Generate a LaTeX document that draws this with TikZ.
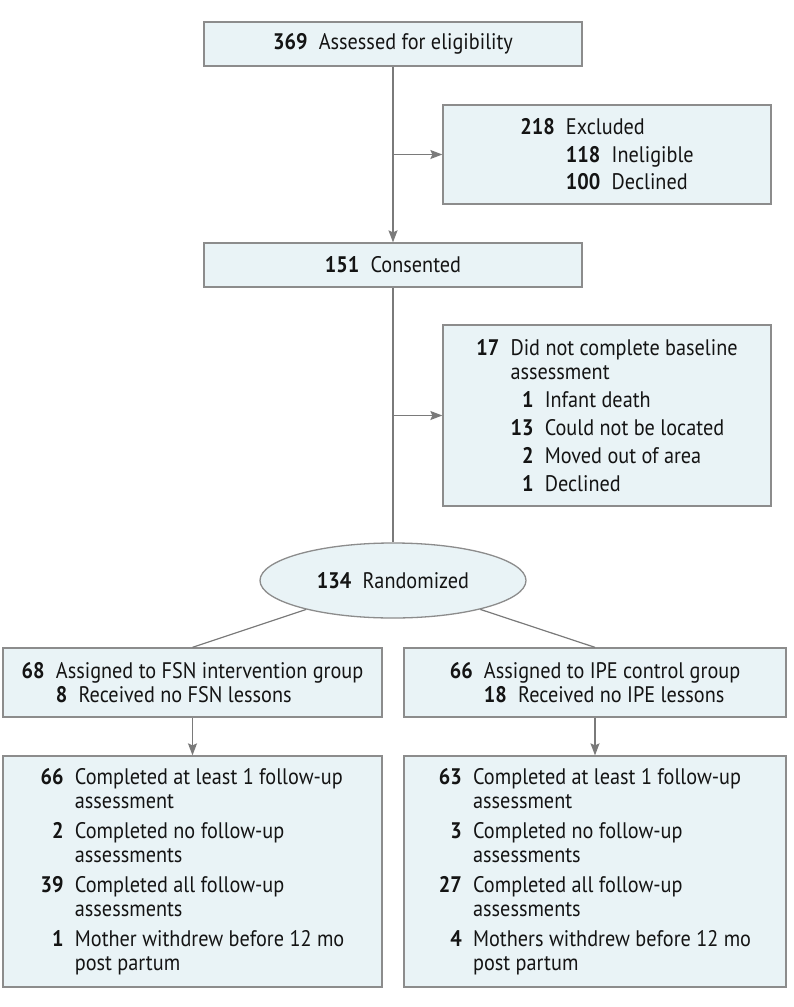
\documentclass[tikz,border=0pt]{standalone}
\usepackage{fontspec}
\setmainfont[FakeStretch=0.9]{PT Sans}
\usetikzlibrary{arrows.meta,shapes.geometric}
\definecolor{boxfill}{HTML}{E9F3F6}
\definecolor{boxline}{HTML}{8C8C8C}
\definecolor{conn}{HTML}{7A7A7A}
\definecolor{txt}{HTML}{141414}
\newcommand\gp{\hspace{0.5em}}
\newcommand\nm[2]{\phantom{\textbf{#1}}\llap{\textbf{#2}}\gp}
\newcommand\ind[1]{\phantom{\textbf{#1}}\gp}
\begin{document}
\begin{tikzpicture}[x=1pt,y=-1pt,
  every node/.style={font=\fontsize{22.5}{23.5}\selectfont, text=txt},
  fbox/.style={draw=boxline, line width=1.3pt, fill=boxfill, rectangle, inner sep=0pt, align=left},
  fell/.style={draw=boxline, line width=1.3pt, fill=boxfill, ellipse, inner sep=0pt},
  conline/.style={draw=conn, line width=1.2pt},
  arr/.style={conline, -{Stealth[length=12pt,width=9pt,inset=2pt]}}
]
\useasboundingbox (0,0) rectangle (794,1007);
\fill[white] (0,0) rectangle (794,1007);

\node[fbox, minimum width=378pt, minimum height=44pt] (b1) at (393,44)
  {\textbf{369}\gp Assessed for eligibility};
\node[fbox, minimum width=328pt, minimum height=99pt] (excl) at (607,154.5)
  {\textbf{218}\gp Excluded\\[4pt]
   \ind{218}\textbf{118}\gp Ineligible\\[4pt]
   \ind{218}\textbf{100}\gp Declined};
\node[fbox, minimum width=378pt, minimum height=44pt] (cons) at (393,265)
  {\textbf{151}\gp Consented};
\node[fbox, minimum width=328pt, minimum height=181pt] (b17) at (607,415.5)
  {\textbf{17}\gp Did not complete baseline\\[1pt]
   \ind{17}assessment\\[4.5pt]
   \ind{17}\nm{13}{1}Infant death\\[4.5pt]
   \ind{17}\nm{13}{13}Could not be located\\[4.5pt]
   \ind{17}\nm{13}{2}Moved out of area\\[4.5pt]
   \ind{17}\nm{13}{1}Declined};
\node[fell, minimum width=266pt, minimum height=75pt] (rand) at (393,580.5)
  {\textbf{134}\gp Randomized};
\node[fbox, minimum width=379pt, minimum height=69pt] (gl) at (192.5,682.5)
  {\textbf{68}\gp Assigned to FSN intervention group\\[1pt]
   \ind{68}\textbf{8}\gp Received no FSN lessons};
\node[fbox, minimum width=382pt, minimum height=69pt] (gr) at (595,682.5)
  {\textbf{66}\gp Assigned to IPE control group\\[1pt]
   \ind{66}\textbf{18}\gp Received no IPE lessons};
\node[fbox, minimum width=379pt, minimum height=231pt] (fl) at (192.5,871.5)
  {\nm{66}{66}Completed at least 1 follow-up\\
   \ind{66}assessment\\[7pt]
   \nm{66}{2}Completed no follow-up\\
   \ind{66}assessments\\[7pt]
   \nm{66}{39}Completed all follow-up\\
   \ind{66}assessments\\[7pt]
   \nm{66}{1}Mother withdrew before 12 mo\\
   \ind{66}post partum};
\node[fbox, minimum width=382pt, minimum height=231pt] (fr) at (595,871.5)
  {\nm{63}{63}Completed at least 1 follow-up\\
   \ind{63}assessment\\[7pt]
   \nm{63}{3}Completed no follow-up\\
   \ind{63}assessments\\[7pt]
   \nm{63}{27}Completed all follow-up\\
   \ind{63}assessments\\[7pt]
   \nm{63}{4}Mothers withdrew before 12 mo\\
   \ind{63}post partum};

\draw[arr] (b1.south) -- (cons.north);
\draw[arr] (b1.south |- excl.west) -- (excl.west);
\draw[conline] (cons.south) -- (rand.north);
\draw[arr] (cons.south |- b17.west) -- (b17.west);
\draw[conline] (rand) -- (gl.north);
\draw[conline] (rand) -- (gr.north);
\draw[arr] (gl.south) -- (fl.north);
\draw[arr] (gr.south) -- (fr.north);
\end{tikzpicture}
\end{document}
